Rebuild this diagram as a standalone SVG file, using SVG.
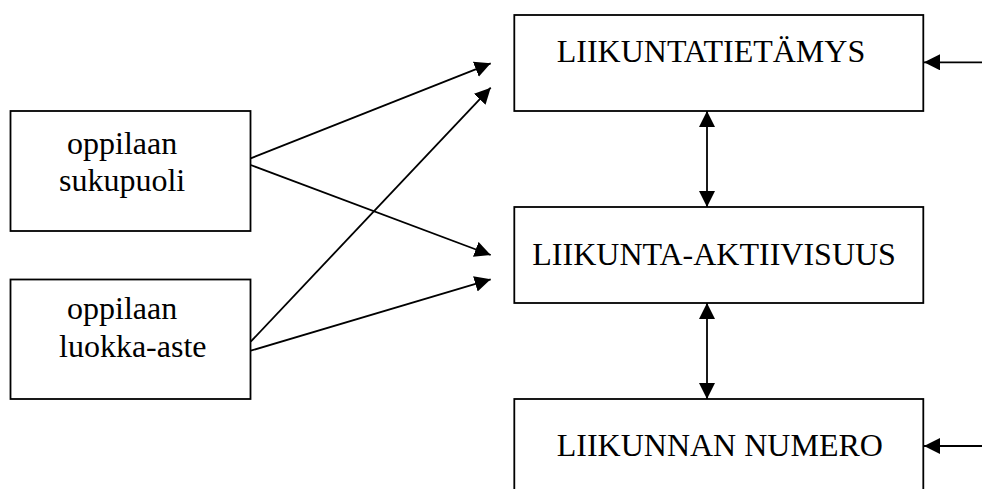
<svg xmlns="http://www.w3.org/2000/svg" width="982" height="489" viewBox="0 0 982 489">
<style>
.box{fill:#fff;stroke:#000;stroke-width:1.8}
.t{font-family:"Liberation Serif","Times New Roman",serif;font-size:32px;fill:#000}
.c{stroke:#000;stroke-width:1.8;fill:none;marker-end:url(#ah)}
.d{marker-start:url(#ah)}
</style>
<defs>
<marker id="ah" markerUnits="userSpaceOnUse" markerWidth="17" markerHeight="17" refX="16" refY="8" orient="auto-start-reverse">
<path d="M0,0 L16,8 L0,16 z" fill="#000"/>
</marker>
</defs>
<rect width="982" height="489" fill="#fff"/>
<g id="n-sukupuoli">
<rect class="box" x="10.5" y="111" width="240" height="120"/>
<text class="t" x="67" y="154">oppilaan</text>
<text class="t" x="59" y="190.7">sukupuoli</text>
</g>
<g id="n-luokka">
<rect class="box" x="10.5" y="279.5" width="240" height="119.5"/>
<text class="t" x="67" y="319.3">oppilaan</text>
<text class="t" x="59" y="356.7">luokka-aste</text>
</g>
<g id="n-tietamys">
<rect class="box" x="514.3" y="15" width="409" height="96"/>
<text class="t" x="556.7" y="62.3">LIIKUNTATIETÄMYS</text>
</g>
<g id="n-aktiivisuus">
<rect class="box" x="514.3" y="207" width="409" height="96"/>
<text class="t" x="532.3" y="265">LIIKUNTA-AKTIIVISUUS</text>
</g>
<g id="n-numero">
<rect class="box" x="514.3" y="399" width="409" height="110"/>
<text class="t" x="556.7" y="456">LIIKUNNAN NUMERO</text>
</g>
<g id="connectors">
<line class="c" x1="250.7" y1="158.3" x2="490.7" y2="63.3"/>
<line class="c" x1="250.7" y1="165" x2="490.7" y2="255"/>
<line class="c" x1="250.7" y1="341.7" x2="490.7" y2="87.7"/>
<line class="c" x1="250.7" y1="350.7" x2="490.7" y2="279.3"/>
<line class="c d" x1="707" y1="111" x2="707" y2="207"/>
<line class="c d" x1="707" y1="303" x2="707" y2="399"/>
<line class="c" x1="982" y1="62.3" x2="924" y2="62.3"/>
<line class="c" x1="982" y1="446" x2="924" y2="446"/>
</g>
</svg>
